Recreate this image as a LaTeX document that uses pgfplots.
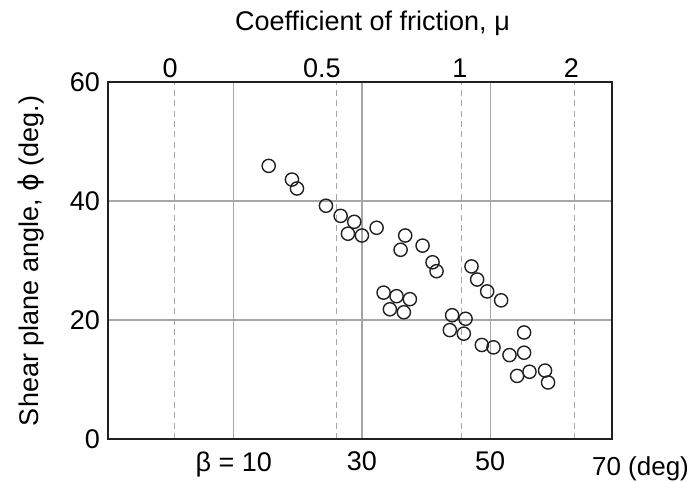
\documentclass[border=0pt]{standalone}
\usepackage{fontspec}
\setmainfont{Liberation Sans}
\newfontfamily\dejavu{DejaVu Sans}
\usepackage{pgfplots}
\pgfplotsset{compat=1.18}
\definecolor{gridgray}{HTML}{A6A6A6}
\definecolor{axisblack}{HTML}{231F20}

\begin{document}
\begin{tikzpicture}[font=\fontsize{13.5}{16}\selectfont]
% top scale: coefficient of friction (dashed lines)
\begin{axis}[
  width=252pt,height=178.5pt,scale only axis,
  xmin=-9.6,xmax=69,ymin=0,ymax=60,
  axis x line*=top,hide y axis,
  axis line style={draw=none},
  major tick length=0pt,
  xtick={0.08,23.77,45.27,62.68},
  xticklabels={0,0.5,1,2},
  xticklabel style={inner sep=1pt,yshift=1pt},
  extra x ticks={0.71,26.06,45.47,63.19},
  extra x tick labels={},
  extra x tick style={grid=major,major grid style={gridgray,line width=0.6pt,dash pattern=on 3pt off 2.2pt}},
]
\addplot[draw=none] coordinates {(0,0)};
\end{axis}
% main axis
\begin{axis}[
  width=252pt,height=178.5pt,scale only axis,
  xmin=-9.6,xmax=69,ymin=0,ymax=60,
  axis line style={axisblack,line width=1.2pt},
  major tick length=0pt,
  xtick={10,30,50},
  xticklabels={{β = 10},30,{\raisebox{-2.5pt}{50}}},
  xticklabel style={yshift=-3pt},
  ytick={0,20,40,60},
  /pgf/number format/assume math mode=true,
  yticklabel style={xshift=-0.5pt},
  xmajorgrids,ymajorgrids,
  grid style={gridgray,line width=0.6pt},
  ylabel={Shear plane angle, {\dejavu ϕ} (deg.)},
  ylabel style={at={(rel axis cs:-0.1517,0.4986)},anchor=center},
  clip=false,
]
\addplot[only marks,mark=o,mark size=3.3pt,mark options={axisblack,line width=0.7pt}] coordinates {
(15.46,45.9)(19.09,43.6)(19.87,42.1)(24.39,39.2)(26.68,37.5)(28.80,36.5)
(27.82,34.5)(30.00,34.2)(32.29,35.5)(36.75,34.2)(36.03,31.8)(39.46,32.5)
(41.01,29.7)(41.64,28.2)(33.38,24.6)(35.40,24.0)(37.48,23.5)(34.36,21.8)
(36.54,21.3)(47.09,29.0)(47.97,26.8)(49.53,24.8)(51.71,23.3)(44.07,20.8)
(46.16,20.2)(43.71,18.3)(45.89,17.7)(48.70,15.8)(50.52,15.4)(53.01,14.1)
(55.29,17.9)(55.29,14.5)(54.20,10.6)(56.13,11.3)(58.56,11.5)(59.03,9.5)
};
\node[anchor=base,inner sep=0pt] at (rel axis cs:0.5248,1.1429) {Coefficient of friction, μ};
\node[anchor=base west,inner sep=0pt,font=\fontsize{13}{16}\selectfont] at (rel axis cs:0.9597,-0.1036) {70 (deg)};
\coordinate (bl) at (rel axis cs:-0.2143,-0.1176);
\coordinate (tr) at (rel axis cs:1.1508,1.2297);
\end{axis}
\pgfresetboundingbox
\useasboundingbox (bl) rectangle (tr);
\end{tikzpicture}
\end{document}
